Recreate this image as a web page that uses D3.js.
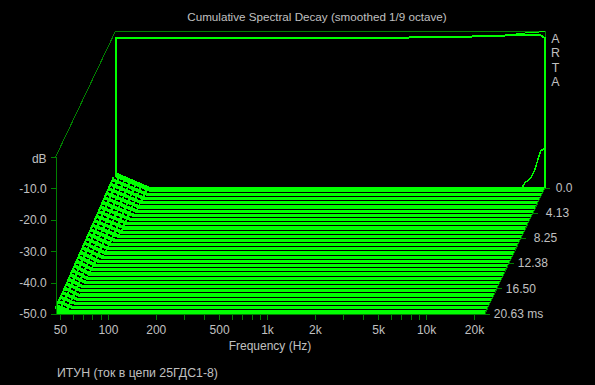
<!DOCTYPE html>
<html>
<head>
<meta charset="utf-8">
<script src="https://cdn.jsdelivr.net/npm/d3@7"></script>
<style>
  html, body { margin: 0; background: #000; }
  text { font-family: "Liberation Sans", Arial, sans-serif; font-size: 12px; fill: #c0c0c0; }
</style>
</head>
<body>
<svg id="chart" width="595" height="385"></svg>
<script>
const freqTicks = [50, 60, 70, 80, 90, 100, 200, 300, 400, 500, 600, 700, 800, 900, 1000, 2000, 3000, 4000, 5000, 6000, 7000, 8000, 9000, 10000, 20000];
const freqLabels = { 50: "50", 100: "100", 200: "200", 500: "500", 1000: "1k", 2000: "2k", 5000: "5k", 10000: "10k", 20000: "20k" };
const dbTicks = [-50, -40, -30, -20, -10];
const msTicks = [0, 4.13, 8.25, 12.38, 16.5, 20.63];
const msLabels = ["0.0", "4.13", "8.25", "12.38", "16.50", "20.63 ms"];

const firstHz = [46.9, 3200, 3400, 7400, 8500, 12300, 14000, 17000, 21700, 23400];
const firstDb = [-2.2, -2.2, -1.9, -1.9, -1.7, -1.6, -1.3, -1.2, -1.2, -2.2];
const peakHz = [13500, 17000, 21700, 23400];
const peakDb = [-1.3, -0.7, -0.3, 0];

// second slice, the only one that still rises at the top end
const secondHz = [46.9, 78, 16750, 17500, 19100, 20200, 22000, 23400];
const secondDb = [-45.2, -50, -50, -48.4, -46.8, -44.3, -38.2, -37.3];

// remaining slices: time, level at the low end, frequency where it hits the floor
const sliceMs = [0.69, 1.38, 2.06, 2.75, 3.44, 4.13, 4.81, 5.5, 6.19, 6.88, 7.56, 8.25, 8.94, 9.63, 10.31, 11, 11.69, 12.38, 13.06, 13.75, 14.44, 15.13, 15.81, 16.5, 17.19, 17.88, 18.56, 19.25, 19.94, 20.63];
const sliceLowDb = [-45.3, -45.4, -45.5, -45.6, -45.7, -45.8, -46, -46.1, -46.2, -46.3, -46.4, -46.5, -46.6, -46.7, -46.8, -46.9, -47, -47.1, -47.2, -47.3, -47.4, -47.5, -47.6, -47.7, -47.8, -47.9, -48, -48, -48.1, -48.1];
const sliceKneeHz = [77.5, 77, 76, 75.5, 75, 74, 73, 72, 71, 70, 69, 67.5, 66, 65, 64, 63, 62, 61, 60, 59, 58, 58, 58, 58, 58, 58, 58, 58, 58, 58];

const bright = "#00ff00";
const dark = "#008000";
const loHz = 46.9;
const hiHz = 23400;

const svg = d3.select("#chart");

const x = d3.scaleLog().domain([50, 20000]).range([60, 474]);
const y = d3.scaleLinear().domain([-50, 0]).range([314, 157]);
// depth axis runs from the back right corner to the front
const depthX = d3.scaleLinear().domain([0, 20.63]).range([60, 0]);
const depthY = d3.scaleLinear().domain([0, 20.63]).range([-126, 0]);

const toPoint = (f, db, ms) => [x(f) + depthX(ms), y(db) + depthY(ms)];
const line = d3.line();

function slicePath(hz, db, ms) {
  return line(hz.map((f, i) => toPoint(f, db[i], ms)));
}

function closedPath(hz, db, ms) {
  const pts = hz.map((f, i) => toPoint(f, db[i], ms));
  pts.unshift(toPoint(hz[0], -50, ms));
  pts.push(toPoint(hz[hz.length - 1], -50, ms));
  return line(pts) + "Z";
}

// a slice's curve, filled down to the floor line of the next slice
function bandPath(hz, db, ms, nextMs) {
  const pts = hz.map((f, i) => toPoint(f, db[i], ms));
  pts.push(toPoint(hz[hz.length - 1], -50, nextMs));
  pts.push(toPoint(hz[0], -50, nextMs));
  return line(pts) + "Z";
}

const plot = svg.append("g").attr("shape-rendering", "crispEdges");

// back frame
plot.append("path")
  .attr("fill", "none")
  .attr("stroke", dark)
  .attr("d", line([
    [x(loHz), y(0)],
    [x(loHz) + depthX(0), y(0) + depthY(0)],
    [x(hiHz) + depthX(0) + 1, y(0) + depthY(0)],
    [x(hiHz) + depthX(0) + 1, y(-2.2) + depthY(0)]
  ]));

// slice at t = 0 is only an outline
plot.append("path")
  .attr("d", closedPath(firstHz, firstDb, 0))
  .attr("fill", "#000")
  .attr("stroke", bright)
  .attr("stroke-width", 2);
plot.append("path")
  .attr("d", slicePath(peakHz, peakDb, 0))
  .attr("fill", "none")
  .attr("stroke", bright);

plot.append("path")
  .attr("d", closedPath(secondHz, secondDb, 0))
  .attr("fill", "#000")
  .attr("stroke", bright)
  .attr("stroke-width", 1.5);

// filled slices, back to front
const slices = sliceMs.map((ms, i) => ({
  ms,
  nextMs: i + 1 < sliceMs.length ? sliceMs[i + 1] : ms,
  hz: [loHz, sliceKneeHz[i], hiHz],
  db: [sliceLowDb[i], -50, -50],
  last: i === sliceMs.length - 1
}));

// band between the second slice and the first black line
plot.append("path")
  .attr("d", bandPath([loHz, 78, hiHz], [-45.2, -50, -50], 0, sliceMs[0]))
  .attr("fill", bright);

const sliceG = plot.selectAll(".slice").data(slices).join("g").attr("class", "slice");

sliceG.append("path")
  .attr("d", d => bandPath(d.hz, d.db, d.ms, d.nextMs))
  .attr("fill", bright);

// flat part of each slice
sliceG.append("path")
  .attr("d", d => slicePath(d.hz.slice(1), d.db.slice(1), d.ms))
  .attr("fill", "none")
  .attr("stroke", d => d.last ? bright : "#000");

// the sloped low end shows as broken dashes
sliceG.append("path")
  .attr("d", d => slicePath(d.hz.slice(0, 2), d.db.slice(0, 2), d.ms))
  .attr("fill", "none")
  .attr("stroke", d => d.last ? bright : "#000")
  .attr("stroke-width", 1.6)
  .attr("stroke-dasharray", "4 2");

// clean left edge along the low ends of the slices
plot.append("path")
  .attr("d", line(slices.map(d => toPoint(d.hz[0], d.db[0], d.ms))))
  .attr("fill", "none")
  .attr("stroke", bright)
  .attr("stroke-width", 2);

// axes
const xAxis = d3.axisBottom(x)
  .tickValues(freqTicks)
  .tickSize(5)
  .tickPadding(6)
  .tickFormat(d => freqLabels[d] || "");

const yAxis = d3.axisLeft(y)
  .tickValues(dbTicks)
  .tickSize(5)
  .tickPadding(4)
  .tickFormat(d => d3.format(".1f")(d).replace("−", "-"));

const xG = svg.append("g")
  .attr("transform", "translate(0,314.5)")
  .call(xAxis);
const yG = svg.append("g")
  .attr("transform", `translate(${x(loHz)},0)`)
  .call(yAxis);

[xG, yG].forEach(g => {
  g.attr("font-family", null).attr("font-size", null);
  g.selectAll("line, .domain").attr("stroke", dark).attr("shape-rendering", "crispEdges");
  g.selectAll("text").attr("fill", null);
});
xG.select(".domain").remove();

// bottom line runs a little past the plot on both sides
svg.append("line")
  .attr("x1", 52).attr("x2", 490)
  .attr("y1", 314.5).attr("y2", 314.5)
  .attr("stroke", dark)
  .attr("shape-rendering", "crispEdges");

yG.append("line")
  .attr("x1", -5).attr("x2", 0)
  .attr("y1", y(0)).attr("y2", y(0))
  .attr("stroke", dark)
  .attr("shape-rendering", "crispEdges");
yG.append("text")
  .attr("x", -9)
  .attr("y", y(0) + 2)
  .attr("dy", "0.32em")
  .attr("text-anchor", "end")
  .text("dB");

// depth axis along the floor's right edge
const depthG = svg.append("g");
depthG.append("line")
  .attr("x1", x(hiHz) + depthX(0)).attr("y1", y(-50) + depthY(0))
  .attr("x2", x(hiHz) + depthX(20.63)).attr("y2", y(-50) + depthY(20.63))
  .attr("stroke", dark)
  .attr("shape-rendering", "crispEdges");

const depthTick = depthG.selectAll(".ms-tick").data(msTicks).join("g")
  .attr("class", "ms-tick")
  .attr("transform", d => `translate(${x(hiHz) + depthX(d)},${y(-50) + depthY(d)})`);
depthTick.append("line")
  .attr("x2", 5)
  .attr("stroke", dark)
  .attr("shape-rendering", "crispEdges");
depthTick.append("text")
  .attr("x", d => d === 0 ? 11 : d < 12 ? 13 : 9)
  .attr("dy", "0.32em")
  .text((d, i) => msLabels[i]);

// titles
svg.append("text")
  .attr("x", 317).attr("y", 21)
  .attr("text-anchor", "middle")
  .style("font-size", "11.65px")
  .text("Cumulative Spectral Decay (smoothed 1/9 octave)");

svg.append("text")
  .attr("x", 270).attr("y", 350)
  .attr("text-anchor", "middle")
  .text("Frequency (Hz)");

svg.append("text")
  .attr("x", 57).attr("y", 377)
  .style("font-size", "12.3px")
  .text("ИТУН (ток в цепи 25ГДС1-8)");

svg.selectAll(".arta").data(["A", "R", "T", "A"]).join("text")
  .attr("class", "arta")
  .attr("x", 555.5)
  .attr("y", (d, i) => 43 + i * 14.3)
  .attr("text-anchor", "middle")
  .style("font-size", "12.4px")
  .text(d => d);
</script>
</body>
</html>
